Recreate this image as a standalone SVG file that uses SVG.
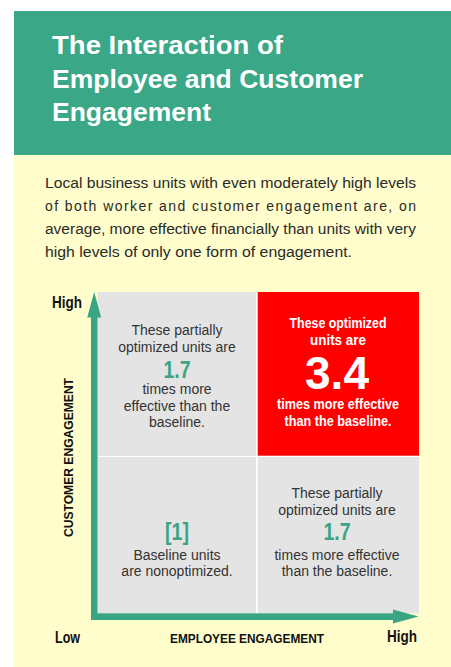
<svg xmlns="http://www.w3.org/2000/svg" width="451" height="667" viewBox="0 0 451 667">
  <style>
    .title { font-family: "Liberation Sans", Arial, sans-serif; font-weight: bold; font-size: 26px; fill: #ffffff; }
    .body { font-family: "Liberation Sans", Arial, sans-serif; font-size: 14px; fill: #2a2a2a; }
    .axis { font-family: "Liberation Sans", Arial, sans-serif; font-weight: bold; font-size: 16px; fill: #111111; }
    .axisname { font-family: "Liberation Sans", Arial, sans-serif; font-weight: bold; font-size: 13.5px; fill: #111111; }
    .cell { font-family: "Liberation Sans", Arial, sans-serif; font-size: 14px; fill: #333333; text-anchor: middle; }
    .num { font-family: "Liberation Sans", Arial, sans-serif; font-weight: bold; font-size: 24px; fill: #3aa585; text-anchor: middle; }
    .hot { font-family: "Liberation Sans", Arial, sans-serif; font-weight: bold; font-size: 14px; fill: #ffffff; text-anchor: middle; }
    .big { font-family: "Liberation Sans", Arial, sans-serif; font-weight: bold; font-size: 46px; fill: #ffffff; text-anchor: middle; }
    .axisbar { fill: #3aa585; }
  </style>

  <!-- page -->
  <rect x="0" y="0" width="451" height="667" fill="#ffffff"/>
  <rect x="14" y="155" width="437" height="512" fill="#fffdcc"/>

  <!-- header band -->
  <g id="header">
    <rect x="14" y="11" width="437" height="144" fill="#3aa787"/>
    <text class="title" x="52" y="54" textLength="231" lengthAdjust="spacingAndGlyphs">The Interaction of</text>
    <text class="title" x="52" y="88" textLength="311" lengthAdjust="spacingAndGlyphs">Employee and Customer</text>
    <text class="title" x="52" y="121" textLength="159" lengthAdjust="spacingAndGlyphs">Engagement</text>
  </g>

  <!-- intro paragraph -->
  <g id="intro">
    <text class="body" x="45" y="188" textLength="371" lengthAdjust="spacingAndGlyphs">Local business units with even moderately high levels</text>
    <text class="body" x="45" y="211" textLength="371" lengthAdjust="spacing">of both worker and customer engagement are, on</text>
    <text class="body" x="45" y="234" textLength="371" lengthAdjust="spacingAndGlyphs">average, more effective financially than units with very</text>
    <text class="body" x="45" y="257" textLength="307" lengthAdjust="spacingAndGlyphs">high levels of only one form of engagement.</text>
  </g>

  <!-- grid backing: shows through as the white dividers -->
  <rect x="97.5" y="292" width="321.5" height="321.3" fill="#ffffff"/>

  <!-- quadrants -->
  <g id="q-top-left">
    <rect x="97.5" y="292" width="158.5" height="164" fill="#e4e4e4"/>
    <text class="cell" x="177" y="335">These partially</text>
    <text class="cell" x="177" y="352">optimized units are</text>
    <text class="num" x="177" y="378" textLength="27" lengthAdjust="spacingAndGlyphs">1.7</text>
    <text class="cell" x="177" y="394">times more</text>
    <text class="cell" x="177" y="410.5">effective than the</text>
    <text class="cell" x="177" y="427">baseline.</text>
  </g>

  <g id="q-top-right">
    <rect x="257.7" y="292" width="161.3" height="163.7" fill="#ff0000"/>
    <text class="hot" x="338" y="328" textLength="97" lengthAdjust="spacingAndGlyphs">These optimized</text>
    <text class="hot" x="338" y="345" textLength="56" lengthAdjust="spacingAndGlyphs">units are</text>
    <text class="big" x="337" y="389">3.4</text>
    <text class="hot" x="338" y="409" textLength="122" lengthAdjust="spacingAndGlyphs">times more effective</text>
    <text class="hot" x="338" y="426" textLength="107" lengthAdjust="spacingAndGlyphs">than the baseline.</text>
  </g>

  <g id="q-bottom-left">
    <rect x="97.5" y="457" width="158.5" height="156.3" fill="#e4e4e4"/>
    <text class="num" x="177" y="540" textLength="24" lengthAdjust="spacingAndGlyphs">[1]</text>
    <text class="cell" x="177" y="559.5">Baseline units</text>
    <text class="cell" x="177" y="576">are nonoptimized.</text>
  </g>

  <g id="q-bottom-right">
    <rect x="257.7" y="457" width="161.3" height="156.3" fill="#e4e4e4"/>
    <text class="cell" x="337" y="498">These partially</text>
    <text class="cell" x="337" y="515">optimized units are</text>
    <text class="num" x="337" y="540" textLength="27" lengthAdjust="spacingAndGlyphs">1.7</text>
    <text class="cell" x="337" y="559.5">times more effective</text>
    <text class="cell" x="337" y="576">than the baseline.</text>
  </g>

  <!-- axes -->
  <g id="connectors">
    <rect class="axisbar" x="91" y="315" width="6.5" height="305"/>
    <polygon class="axisbar" points="94.2,292 101.2,317.5 87.2,317.5"/>
    <rect class="axisbar" x="91" y="613.3" width="304" height="6.7"/>
    <polygon class="axisbar" points="418.5,616.5 393,609.5 393,623.5"/>
  </g>

  <g id="axis-labels">
    <text class="axis" x="52" y="308" textLength="30" lengthAdjust="spacingAndGlyphs">High</text>
    <text class="axis" x="55" y="643" textLength="25" lengthAdjust="spacingAndGlyphs">Low</text>
    <text class="axis" x="387" y="642" textLength="30" lengthAdjust="spacingAndGlyphs">High</text>
    <text class="axisname" x="170" y="643" textLength="154" lengthAdjust="spacingAndGlyphs">EMPLOYEE ENGAGEMENT</text>
    <text class="axisname" transform="translate(73.3,537) rotate(-90)" x="0" y="0" textLength="159" lengthAdjust="spacingAndGlyphs">CUSTOMER ENGAGEMENT</text>
  </g>
</svg>
